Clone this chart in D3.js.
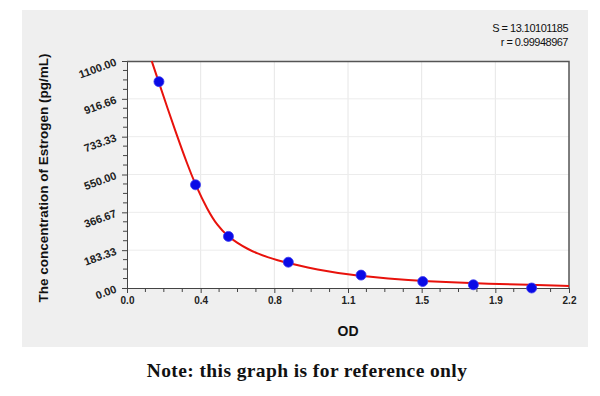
<!DOCTYPE html>
<html>
<head>
<meta charset="utf-8">
<script src="https://cdnjs.cloudflare.com/ajax/libs/d3/7.8.5/d3.min.js"></script>
<style>
  body { margin: 0; background: #ffffff; }
  svg { display: block; }
  .tick text { font-family: Arial, "Liberation Sans", sans-serif; font-weight: bold; }
</style>
</head>
<body>
<script>

// standard points (OD, concentration)
var stdOD = [0.159, 0.341, 0.505, 0.803, 1.165, 1.472, 1.724, 2.014];
var stdConc = [1000, 500, 250, 125, 62.5, 31.25, 15.63, 0];

// fitted curve
var curveOD = [0.123, 0.159, 0.20, 0.25, 0.30, 0.341, 0.40, 0.45, 0.50, 0.55, 0.60, 0.65, 0.70, 0.75, 0.80, 0.90, 1.00, 1.10, 1.20, 1.30, 1.40, 1.50, 1.60, 1.80, 2.00, 2.20];
var curveConc = [1100, 995, 876, 735, 600, 499, 380, 302, 252, 218, 189, 167, 149, 134, 121, 99, 81, 66, 55, 46, 38.5, 32.5, 28, 21, 15, 10];

// ticks
var xTicks = [0, 0.36667, 0.73333, 1.1, 1.46667, 1.83333, 2.2];
var xTickLabels = ["0.0", "0.4", "0.8", "1.1", "1.5", "1.9", "2.2"];
var yTicks = [0, 183.33, 366.67, 550, 733.33, 916.66, 1100];
var yTickLabels = ["0.00", "183.33", "366.67", "550.00", "733.33", "916.66", "1100.00"];

var statLines = ["S = 13.10101185", "r = 0.99948967"];

var svgWidth = 600;
var svgHeight = 396;

var margin = {
    top: 61,
    right: 31,
    bottom: 108,
    left: 127
};

var width = svgWidth - margin.left - margin.right;
var height = svgHeight - margin.top - margin.bottom;

var svg = d3.select("body")
    .append("svg")
    .attr("width", svgWidth)
    .attr("height", svgHeight);

// grey panel behind the chart
svg.append("rect")
    .attr("x", 22)
    .attr("y", 10)
    .attr("width", 566)
    .attr("height", 337)
    .attr("fill", "#efefef");

var chartGroup = svg.append("g")
    .attr("transform", `translate(${margin.left}, ${margin.top})`);

// scales
var xScale = d3.scaleLinear()
    .domain([0, 2.2])
    .range([0, width]);

var yScale = d3.scaleLinear()
    .domain([0, 1100])
    .range([height, 0]);

// plot background
chartGroup.append("rect")
    .attr("width", width)
    .attr("height", height)
    .attr("fill", "#ffffff");

// grid lines
chartGroup.selectAll(".vgrid")
    .data(xTicks.slice(1, -1))
    .enter()
    .append("line")
    .attr("x1", d => xScale(d))
    .attr("x2", d => xScale(d))
    .attr("y1", 0)
    .attr("y2", height)
    .attr("stroke", "#e6e6e6")
    .attr("stroke-width", 1);

chartGroup.selectAll(".hgrid")
    .data(yTicks.slice(1, -1))
    .enter()
    .append("line")
    .attr("x1", 0)
    .attr("x2", width)
    .attr("y1", d => yScale(d))
    .attr("y2", d => yScale(d))
    .attr("stroke", "#ececec")
    .attr("stroke-width", 1);

// minor ticks (4 divisions between majors)
var xMinor = [];
var yMinor = [];
for (var i = 0; i < xTicks.length - 1; i++) {
    for (var j = 1; j < 4; j++) {
        xMinor.push(xTicks[i] + (xTicks[i + 1] - xTicks[i]) * j / 4);
        yMinor.push(yTicks[i] + (yTicks[i + 1] - yTicks[i]) * j / 4);
    }
}

// axes
var bottomAxis = d3.axisBottom(xScale)
    .tickValues(xTicks)
    .tickFormat((d, i) => xTickLabels[i])
    .tickSizeInner(5)
    .tickSizeOuter(0)
    .tickPadding(4);

var leftAxis = d3.axisLeft(yScale)
    .tickValues(yTicks)
    .tickFormat((d, i) => yTickLabels[i])
    .tickSizeInner(5)
    .tickSizeOuter(0)
    .tickPadding(4);

var xAxisG = chartGroup.append("g")
    .attr("transform", `translate(0, ${height})`)
    .call(bottomAxis);

xAxisG.selectAll("text")
    .style("font-size", "10px")
    .attr("fill", "#222");

var yAxisG = chartGroup.append("g")
    .call(leftAxis);

// rotated y labels, right end sits on the tick
yAxisG.selectAll("text")
    .style("font-size", "11px")
    .attr("fill", "#222")
    .attr("x", -11)
    .attr("dy", "0.35em")
    .attr("transform", "rotate(-20, -11, 0)");

chartGroup.selectAll(".domain, .tick line")
    .attr("stroke", "#444");

chartGroup.selectAll(".xminor")
    .data(xMinor)
    .enter()
    .append("line")
    .attr("x1", d => xScale(d))
    .attr("x2", d => xScale(d))
    .attr("y1", height)
    .attr("y2", height + 4)
    .attr("stroke", "#444");

chartGroup.selectAll(".yminor")
    .data(yMinor)
    .enter()
    .append("line")
    .attr("x1", -4)
    .attr("x2", 0)
    .attr("y1", d => yScale(d))
    .attr("y2", d => yScale(d))
    .attr("stroke", "#444");

// top and right frame
chartGroup.append("path")
    .attr("d", `M0,0.5H${width}V${height}`)
    .attr("fill", "none")
    .attr("stroke", "#555")
    .attr("stroke-width", 1.5);

// fitted curve
var curveData = curveOD.map((d, i) => ({ od: d, conc: curveConc[i] }));

var line = d3.line()
    .x(d => xScale(d.od))
    .y(d => yScale(d.conc))
    .curve(d3.curveBasis);

chartGroup.append("path")
    .datum(curveData)
    .attr("d", line)
    .attr("fill", "none")
    .attr("stroke", "#e8120c")
    .attr("stroke-width", 2);

// standard points
var stdData = stdOD.map((d, i) => ({ od: d, conc: stdConc[i] }));

chartGroup.selectAll("circle")
    .data(stdData)
    .enter()
    .append("circle")
    .attr("cx", d => xScale(d.od))
    .attr("cy", d => yScale(d.conc))
    .attr("r", 5)
    .attr("fill", "#0a0ae6")
    .attr("stroke", "#3a3af0")
    .attr("stroke-width", 0.8);

// axis labels
svg.append("text")
    .attr("transform", "translate(48, 178) rotate(-90)")
    .attr("text-anchor", "middle")
    .style("font-family", "Arial, 'Liberation Sans', sans-serif")
    .style("font-weight", "bold")
    .style("font-size", "13.5px")
    .attr("fill", "#111")
    .text("The concentration of Estrogen (pg/mL)");

svg.append("text")
    .attr("x", 348)
    .attr("y", 336)
    .attr("text-anchor", "middle")
    .style("font-family", "Arial, 'Liberation Sans', sans-serif")
    .style("font-weight", "bold")
    .style("font-size", "14px")
    .attr("fill", "#111")
    .text("OD");

// fit statistics
svg.selectAll(".stat")
    .data(statLines)
    .enter()
    .append("text")
    .attr("x", 568)
    .attr("y", (d, i) => 32 + i * 14)
    .attr("text-anchor", "end")
    .style("font-family", "Arial, 'Liberation Sans', sans-serif")
    .style("font-size", "11px")
    .style("letter-spacing", "-0.5px")
    .attr("fill", "#111")
    .text(d => d);

// note under the chart
svg.append("text")
    .attr("x", 307)
    .attr("y", 377)
    .attr("text-anchor", "middle")
    .style("font-family", "'Liberation Serif', 'DejaVu Serif', serif")
    .style("font-weight", "bold")
    .style("font-size", "19.5px")
    .style("letter-spacing", "0.4px")
    .attr("fill", "#111")
    .text("Note: this graph is for reference only");

</script>
</body>
</html>
